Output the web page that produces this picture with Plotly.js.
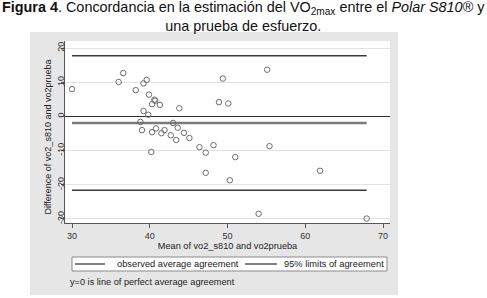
<!DOCTYPE html>
<html>
<head>
<meta charset="utf-8">
<script src="https://cdn.plot.ly/plotly-3.0.1.min.js"></script>
<style>
html,body{margin:0;padding:0;background:#fff;}
#bg{position:absolute;left:30px;top:32px;width:368px;height:263px;background:#e6e6e6;}
#chart{position:absolute;left:0;top:0;width:487px;height:298px;}
</style>
</head>
<body>
<div id="bg"></div>
<div id="chart"></div>
<script>
// Bland-Altman data: mean of the two measurements and their difference
const meanVals = [30.0, 36.0, 36.6, 38.2, 39.2, 39.6, 39.9, 40.6, 40.7, 40.3, 41.3, 39.2, 39.8, 43.8,
  38.8, 43.0, 39.0, 40.3, 40.8, 41.5, 41.9, 42.7, 43.4, 43.6, 44.4, 45.1, 40.2, 46.4, 47.2, 48.2,
  47.2, 48.9, 49.4, 50.1, 51.0, 50.3, 54.0, 55.1, 55.4, 61.9, 67.9];
const diffVals = [8.0, 10.1, 12.7, 7.7, 9.7, 10.7, 6.4, 4.9, 4.6, 3.6, 3.4, 1.6, 0.5, 2.4,
  -1.6, -1.9, -4.0, -4.6, -3.5, -4.9, -4.0, -5.5, -6.9, -3.3, -4.8, -6.3, -10.4, -9.0, -10.6, -8.4,
  -16.5, 4.2, 11.1, 3.8, -11.9, -18.7, -28.5, 13.7, -8.7, -15.9, -29.9];
const meanDiff = [-1.9];
const limits = [17.8, -21.6];
const xTicks = [30, 40, 50, 60, 70];
const yTicks = [-30, -20, -10, 0, 10, 20];
const legendLabels = ["observed average agreement", "95% limits of agreement"];
const noteText = "y=0 is line of perfect average agreement";
const yTitle = "Difference of vo2_s810 and vo2prueba";
const xTitle = "Mean of vo2_s810 and vo2prueba";

const xmin = Math.min(...meanVals), xmax = Math.max(...meanVals);
const FONT = '"Liberation Sans", Arial, sans-serif';

const traces = [
  {x: [xmin, xmax], y: [meanDiff[0], meanDiff[0]], mode: 'lines',
   line: {color: '#7a7a7a', width: 2.6}, hoverinfo: 'skip', showlegend: false},
  {x: [xmin, xmax], y: [limits[0], limits[0]], mode: 'lines',
   line: {color: '#3a3a3a', width: 1.5}, hoverinfo: 'skip', showlegend: false},
  {x: [xmin, xmax], y: [limits[1], limits[1]], mode: 'lines',
   line: {color: '#3a3a3a', width: 1.5}, hoverinfo: 'skip', showlegend: false},
  {x: meanVals, y: diffVals, mode: 'markers', type: 'scatter',
   marker: {symbol: 'circle-open', size: 5.5, color: '#6e6e6e', line: {width: 1, color: '#6e6e6e'}},
   showlegend: false}
];

// plot area: x 65..390 px, y 41..223 px
const L = 65, R = 390, T = 41, B = 223;
const px = v => (v - L) / (R - L);
const py = v => (B - v) / (B - T);

const shapes = [
  {type: 'rect', xref: 'paper', yref: 'paper', x0: px(72), x1: px(387), y0: py(271), y1: py(257),
   fillcolor: '#ffffff', line: {color: '#8a8a8a', width: 1}},
  {type: 'line', xref: 'paper', yref: 'paper', x0: px(75), x1: px(105), y0: py(264), y1: py(264),
   line: {color: '#333', width: 1.2}},
  {type: 'line', xref: 'paper', yref: 'paper', x0: px(245), x1: px(277), y0: py(264), y1: py(264),
   line: {color: '#333', width: 1.2}}
];

const annotations = [
  {xref: 'paper', yref: 'paper', x: px(115), y: py(264), xanchor: 'left', yanchor: 'middle',
   text: legendLabels[0], showarrow: false, font: {family: FONT, size: 9.3, color: '#222'}},
  {xref: 'paper', yref: 'paper', x: px(282), y: py(264), xanchor: 'left', yanchor: 'middle',
   text: legendLabels[1], showarrow: false, font: {family: FONT, size: 9.3, color: '#222'}},
  {xref: 'paper', yref: 'paper', x: px(68), y: py(282), xanchor: 'left', yanchor: 'middle',
   text: noteText, showarrow: false, font: {family: FONT, size: 9.2, color: '#222'}},
  {xref: 'paper', yref: 'paper', x: px(47.5), y: py(137), xanchor: 'center', yanchor: 'middle',
   textangle: -90, text: yTitle, showarrow: false, font: {family: FONT, size: 9, color: '#222'}},
  {xref: 'paper', yref: 'paper', x: px(243.5), y: py(16), xanchor: 'center', yanchor: 'middle',
   text: '<b>Figura 4</b>. Concordancia en la estimación del VO<sub>2max</sub> entre el <i>Polar S810®</i> y<br>una prueba de esfuerzo.',
   showarrow: false, font: {family: FONT, size: 14.4, color: '#111'}}
];

const layout = {
  width: 487, height: 298,
  margin: {l: L, r: 487 - R, t: T, b: 298 - B, pad: 0},
  paper_bgcolor: 'rgba(0,0,0,0)', plot_bgcolor: '#ffffff',
  font: {family: FONT, size: 9, color: '#333'},
  showlegend: false,
  xaxis: {
    range: [29.1, 70.9], tickvals: xTicks, ticktext: xTicks.map(String),
    showgrid: false, zeroline: false, showline: true, linecolor: '#555', linewidth: 1,
    ticks: 'outside', ticklen: 4, tickcolor: '#555',
    tickfont: {family: FONT, size: 9, color: '#333'},
    title: {text: xTitle, standoff: 1,
            font: {family: FONT, size: 9.2, color: '#222'}},
    automargin: false, fixedrange: true
  },
  yaxis: {
    range: [-31.2, 22.1], tickvals: yTicks, ticktext: yTicks.map(String),
    tickangle: -90, ticklabelstandoff: -7,
    showgrid: true, gridcolor: '#e2e2e2', gridwidth: 1,
    zeroline: true, zerolinecolor: '#2e2e2e', zerolinewidth: 1.4,
    showline: true, linecolor: '#555', linewidth: 1,
    ticks: 'outside', ticklen: 3, tickcolor: '#555',
    tickfont: {family: FONT, size: 9, color: '#333'},
    automargin: false, fixedrange: true
  },
  shapes: shapes,
  annotations: annotations
};

Plotly.newPlot('chart', traces, layout, {displayModeBar: false, staticPlot: true});
</script>
</body>
</html>
